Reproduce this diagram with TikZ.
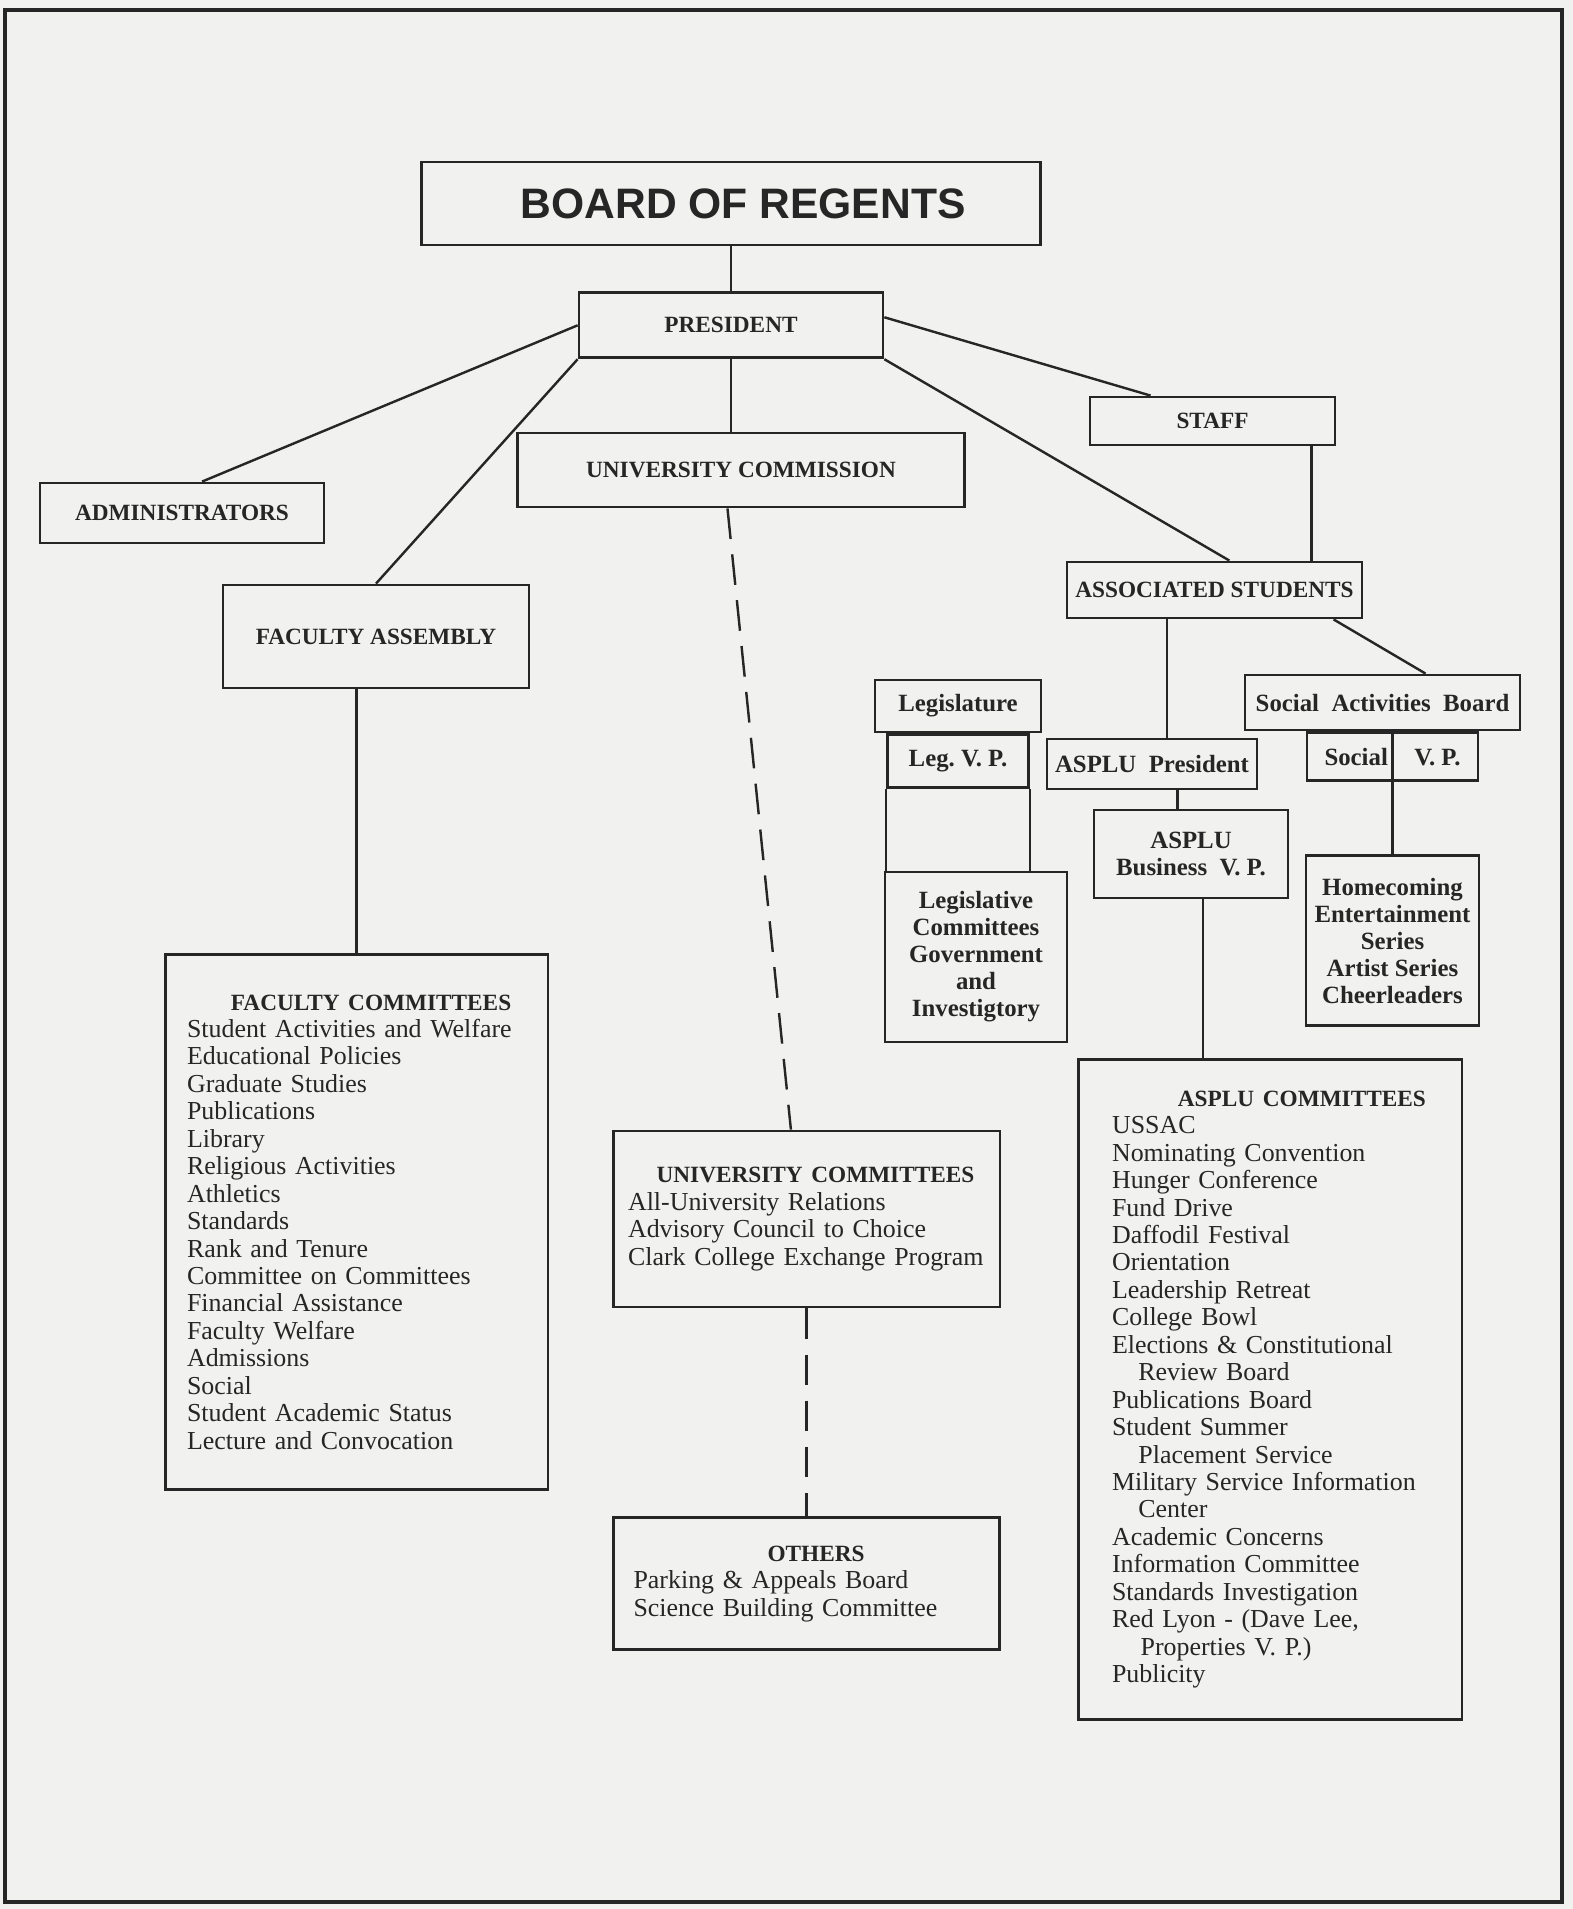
\documentclass[tikz,border=0pt]{standalone}
\usepackage{fontspec}
\setmainfont{Liberation Serif}
\newfontfamily\regentsfont{Liberation Sans}
\usetikzlibrary{positioning,calc}
\definecolor{Ink}{HTML}{262626}
\definecolor{Paper}{HTML}{F1F1EF}
\newcommand{\chartheading}[2]{\hspace*{#1}\makebox[0pt][l]{\fontsize{10.6}{12.5}\selectfont\bfseries #2}}
\tikzset{
  chart caps/.style={draw=Ink,line width=1.3pt,align=center,inner sep=2pt,
    font=\fontsize{10.6}{12.5}\selectfont\bfseries,text=Ink},
  chart small/.style={draw=Ink,line width=1.3pt,align=center,inner sep=2pt,
    font=\fontsize{11.3}{12.3}\selectfont\bfseries,text=Ink},
  chart list/.style={draw=Ink,line width=1.3pt,align=left,inner ysep=2pt,
    font=\fontsize{11.8}{12.5}\selectfont,text=Ink},
  chart line/.style={line width=1.1pt,draw=Ink},
  chart dash/.style={chart line,dash pattern=on 14pt off 7pt}
}
\begin{document}
\begin{tikzpicture}[x=0.016cm,y=-0.016cm,node distance=0.72cm]
  \fill[Paper] (0,0) rectangle (1573,1909);
  \useasboundingbox (0,0) rectangle (1573,1909);
  \draw[Ink,line width=1.8pt] (5,10) rectangle (1562,1902);

  \node[chart caps,minimum width=9.92cm,minimum height=1.328cm,
    font=\regentsfont\fontsize{19.4}{22}\selectfont\bfseries] (board) at (731,203.5) {\hspace{11pt}BOARD OF REGENTS};
  \node[chart caps,minimum width=4.864cm,minimum height=1.04cm,below=of board] (pres) {PRESIDENT};
  \node[chart caps,minimum width=7.168cm,minimum height=1.184cm] (ucomm) at (741,470) {UNIVERSITY COMMISSION};
  \node[chart caps,minimum width=4.544cm,minimum height=0.96cm] (admin) at (182,513) {ADMINISTRATORS};
  \node[chart caps,minimum width=3.92cm,minimum height=0.768cm] (staff) at (1212.5,421) {STAFF};
  \node[chart caps,minimum width=4.896cm,minimum height=1.648cm] (fassembly) at (376,636.5) {FACULTY ASSEMBLY};
  \node[chart caps,minimum width=4.72cm,minimum height=0.896cm] (astudents) at (1214.5,590) {ASSOCIATED STUDENTS};

  \node[chart small,minimum width=2.656cm,minimum height=0.832cm] (legis) at (958,706) {Legislature};
  \node[chart small,minimum width=2.256cm,minimum height=0.848cm,below=0pt of legis] (legvp) {Leg.\ V.\ P.};
  \node[chart small,minimum width=2.912cm,minimum height=2.72cm] (legcomm) at (976,957)
    {Legislative\\Committees\\Government\\and\\Investigtory};
  \node[chart small,minimum width=3.36cm,minimum height=0.8cm] (asplupres) at (1152,764) {ASPLU\ \ President};
  \node[chart small,minimum width=3.104cm,minimum height=1.408cm] (business) at (1191,854) {ASPLU\\Business\ \ V.\ P.};
  \node[chart small,minimum width=4.4cm,minimum height=0.88cm] (social) at (1382.5,702.5) {Social\ \ Activities\ \ Board};
  \node[chart small,minimum width=2.736cm,minimum height=0.768cm,below=0pt of social,xshift=0.16cm] (socialvp)
    {Social\hspace{12pt}V.\ P.};
  \node[chart small,minimum width=2.768cm,minimum height=2.72cm,below=1.152cm of socialvp] (homecoming)
    {Homecoming\\Entertainment\\Series\\Artist Series\\Cheerleaders};

  \node[chart list,text width=5.424cm,inner xsep=0.352cm,minimum height=8.576cm] (fcomm) at (356.5,1222)
    {\chartheading{20pt}{FACULTY COMMITTEES}\\Student Activities and Welfare\\Educational Policies\\
     Graduate Studies\\Publications\\Library\\Religious Activities\\Athletics\\Standards\\Rank and Tenure\\
     Committee on Committees\\Financial Assistance\\Faculty Welfare\\Admissions\\Social\\
     Student Academic Status\\Lecture and Convocation};
  \node[chart list,text width=5.712cm,inner xsep=0.24cm,minimum height=2.816cm] (ucommittees) at (806.5,1219)
    {\chartheading{13pt}{UNIVERSITY COMMITTEES}\\All-University Relations\\Advisory Council to Choice\\
     Clark College Exchange Program};
  \node[chart list,text width=5.536cm,inner xsep=0.32cm,minimum height=2.112cm,below=3.328cm of ucommittees] (others)
    {\chartheading{61pt}{OTHERS}\\Parking \& Appeals Board\\Science Building Committee};
  \node[chart list,text width=5.056cm,inner xsep=0.544cm,minimum height=10.576cm] (acomm) at (1270,1389.5)
    {\chartheading{30pt}{ASPLU COMMITTEES}\\USSAC\\Nominating Convention\\Hunger Conference\\Fund Drive\\
     Daffodil Festival\\Orientation\\Leadership Retreat\\College Bowl\\Elections \& Constitutional\\
     \hspace*{12pt}Review Board\\Publications Board\\Student Summer\\\hspace*{12pt}Placement Service\\
     Military Service Information\\\hspace*{12pt}Center\\Academic Concerns\\Information Committee\\
     Standards Investigation\\Red Lyon - (Dave Lee,\\\hspace*{13pt}Properties V. P.)\\Publicity};

  \coordinate (staffdrop) at ($(staff.south west)!0.9!(staff.south east)$);
  \coordinate (asdrop) at ($(astudents.south west)!0.34!(astudents.south east)$);
  \coordinate (presdrop) at ($(asplupres.south west)!0.62!(asplupres.south east)$);
  \coordinate (busdrop) at ($(business.south west)!0.56!(business.south east)$);

  \draw[chart line] (board.south) -- (pres.north);
  \draw[chart line] (pres.south) -- (pres.south |- ucomm.north);
  \draw[chart line] (pres.west) -- ($(admin.north west)!0.57!(admin.north east)$);
  \draw[chart line] (pres.south west) -- (fassembly.north);
  \draw[chart line] (pres.3) -- ($(staff.north west)!0.25!(staff.north east)$);
  \draw[chart line] (pres.south east) -- ($(astudents.north west)!0.55!(astudents.north east)$);
  \draw[chart line] (staffdrop) -- (staffdrop |- astudents.north);
  \draw[chart line] (fcomm.north |- fassembly.south) -- (fcomm.north);
  \draw[chart dash] ($(ucomm.south west)!0.47!(ucomm.south east)$) -- ($(ucommittees.north west)!0.46!(ucommittees.north east)$);
  \draw[chart dash] (ucommittees.south) -- (ucommittees.south |- others.north);
  \draw[chart line] (asdrop) -- (asdrop |- asplupres.north);
  \draw[chart line] ($(astudents.south west)!0.9!(astudents.south east)$) -- ($(social.north west)!0.655!(social.north east)$);
  \draw[chart line] (homecoming.north |- social.south) -- (homecoming.north);
  \draw[chart line] (legvp.south west) -- (legvp.south west |- legcomm.north);
  \draw[chart line] (legvp.south east) -- (legvp.south east |- legcomm.north);
  \draw[chart line] (presdrop) -- (presdrop |- business.north);
  \draw[chart line] (busdrop) -- (busdrop |- acomm.north);
\end{tikzpicture}
\end{document}
